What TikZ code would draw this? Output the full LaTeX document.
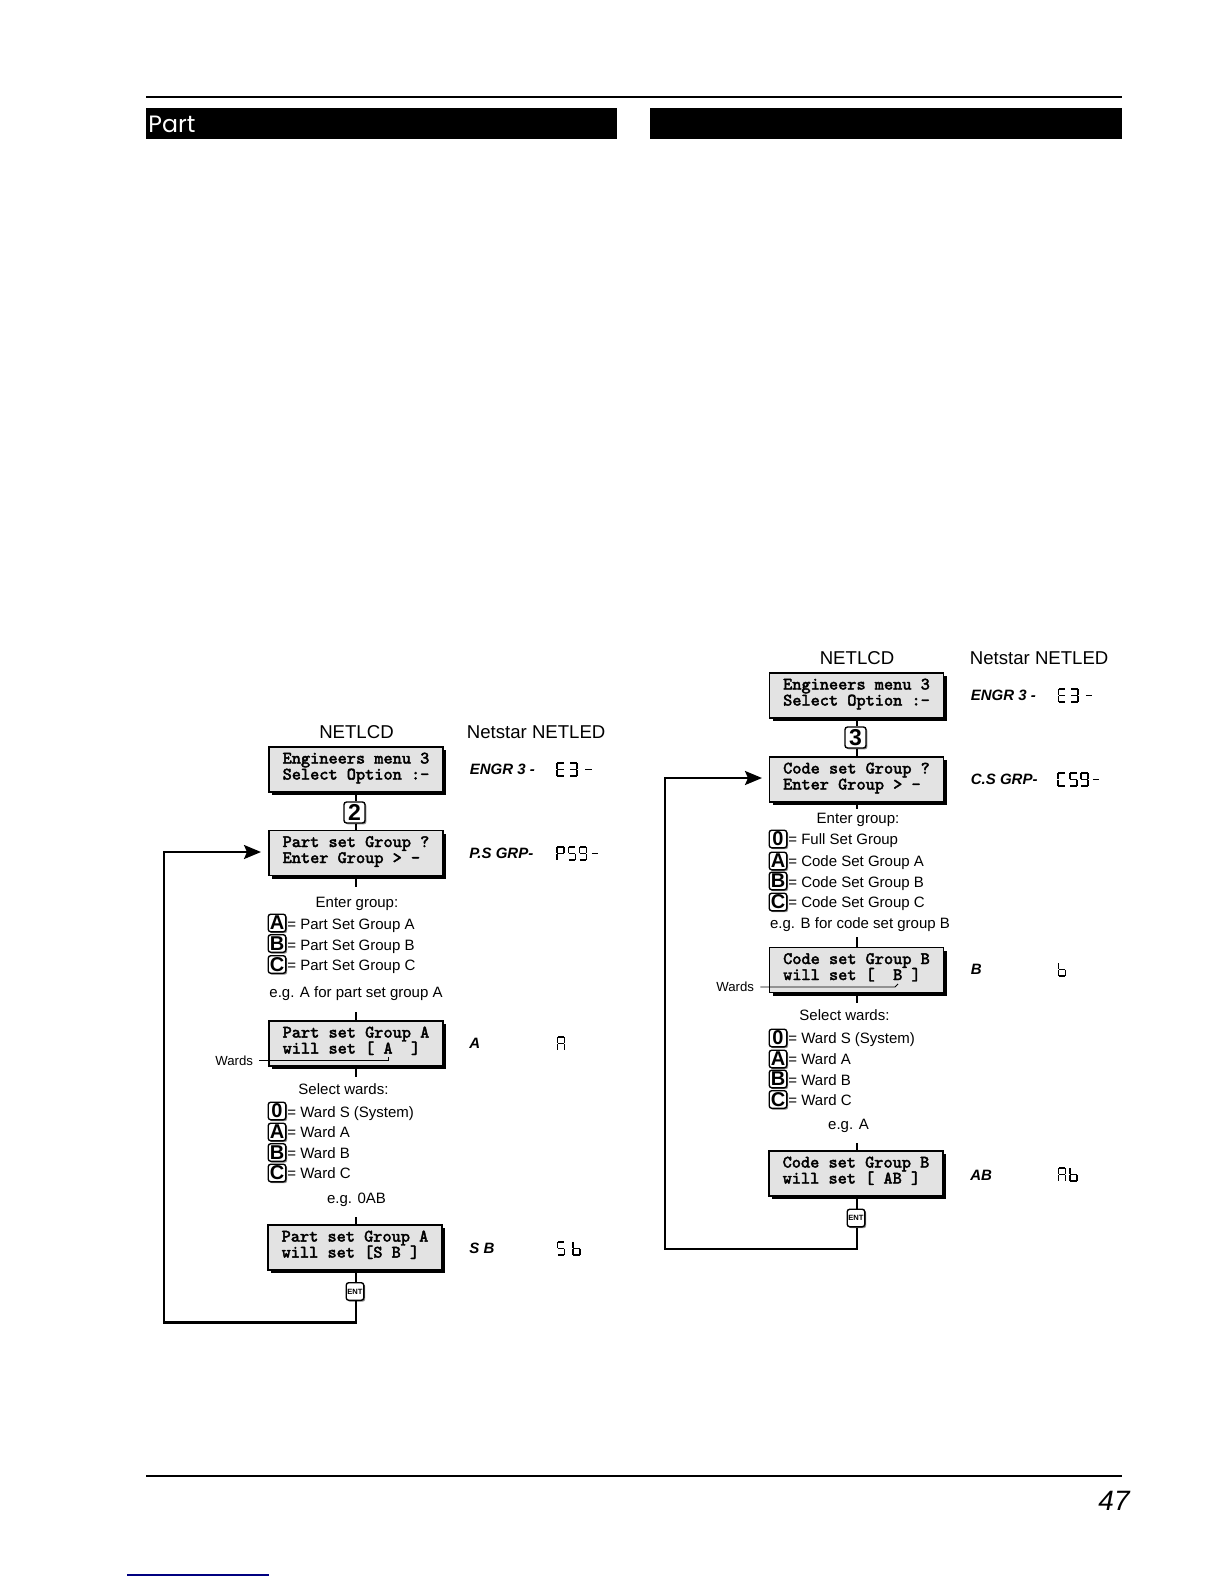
\documentclass[tikz,border=0pt]{standalone}
\usepackage{fontspec}
\setmainfont{Liberation Sans}
\newfontfamily\hdfont{Poppins}
\newfontfamily\lcdfont[FakeBold=2.2]{Latin Modern Mono}
\usetikzlibrary{shadows,arrows.meta}
\newcommand\lo{\rule[-3.4pt]{0pt}{0pt}}
\tikzset{
  x=0.5pt,y=-0.5pt,
  lcd/.style={rectangle,draw=black,line width=0.7pt,fill=black!11,minimum width=87pt,minimum height=22.5pt,inner sep=0pt,align=left,
    font=\lcdfont\fontsize{8.73pt}{8pt}\selectfont,
    general shadow={fill=black,shadow xshift=1.6pt,shadow yshift=-1.6pt}},
  keycap/.style={rectangle,rounded corners=1.3pt,draw=black,line width=0.7pt,fill=white,minimum size=8.8pt,inner sep=0pt,
    font=\bfseries\fontsize{10pt}{10pt}\selectfont,
    general shadow={fill=black!45,shadow xshift=0.7pt,shadow yshift=-0.7pt}},
  bigkey/.style={keycap,minimum size=10.5pt,font=\bfseries\fontsize{11.5pt}{11.5pt}\selectfont},
  entkey/.style={keycap,minimum size=8.8pt,font=\bfseries\fontsize{3.8pt}{3.8pt}\selectfont},
  head/.style={anchor=base west,inner sep=0pt,font=\fontsize{9.3pt}{9.3pt}\selectfont},
  headc/.style={head,anchor=base},
  item/.style={anchor=base west,inner sep=0pt,font=\fontsize{7.5pt}{7.5pt}\selectfont},
  itemc/.style={item,anchor=base},
  ledlabel/.style={anchor=base west,inner sep=0pt,font=\bfseries\itshape\fontsize{7.5pt}{7.5pt}\selectfont},
  wardtag/.style={anchor=base west,inner sep=0pt,font=\fontsize{6.6pt}{6.6pt}\selectfont},
  flow/.style={line width=1pt,black},
  loopline/.style={line width=1.15pt,black},
  leader/.style={line width=0.45pt,black},
  ledline/.style={line width=0.8pt,black,line cap=butt},
  bar/.style={fill=black,draw=none}
}
\def\sa{(0.4,0)--(6.6,0) }
\def\sb{(7,0.4)--(7,6.1) }
\def\sc{(7,6.9)--(7,12.6) }
\def\sd{(0.4,13)--(6.6,13) }
\def\se{(0,6.9)--(0,12.6) }
\def\sf{(0,0.4)--(0,6.1) }
\def\sg{(0.4,6.5)--(6.6,6.5) }
\newcommand\ledglyph[3]{\draw[ledline,shift={(#1,#2)}] #3;}
\newcommand\ledE[2]{\ledglyph{#1}{#2}{\sa\sd\se\sf\sg}}
\newcommand\ledThree[2]{\ledglyph{#1}{#2}{\sa\sb\sc\sd\sg}}
\newcommand\ledP[2]{\ledglyph{#1}{#2}{\sa\sb\se\sf\sg}}
\newcommand\ledFive[2]{\ledglyph{#1}{#2}{\sa\sc\sd\sf\sg}}
\newcommand\ledNine[2]{\ledglyph{#1}{#2}{\sa\sb\sc\sd\sf\sg}}
\newcommand\ledDash[2]{\ledglyph{#1}{#2}{\sg}}
\newcommand\ledA[2]{\ledglyph{#1}{#2}{\sa\sb\sc\se\sf\sg}}
\newcommand\ledB[2]{\ledglyph{#1}{#2}{\sc\sd\se\sf\sg}}
\newcommand\ledC[2]{\ledglyph{#1}{#2}{\sa\sd\se\sf}}
\begin{document}
\begin{tikzpicture}
\useasboundingbox (0,0) rectangle (1224,1584);
% page furniture
\draw[line width=0.85pt] (146,97) -- (1122,97);
\fill[bar] (146,108) rectangle (617,139);
\fill[bar] (650,108) rectangle (1122,139);
\node[anchor=base west,inner sep=0pt,text=white,font=\hdfont\fontsize{11.8pt}{12pt}\selectfont] (parttitle) at (148,133) {Part};
\draw[line width=0.6pt] (146,1476) -- (1122,1476);
\node[anchor=base east,inner sep=0pt,font=\itshape\fontsize{14pt}{14pt}\selectfont] (pagenum) at (1130,1510) {47};
\draw[line width=0.6pt,color={rgb,255:red,0;green,0;blue,128}] (127,1575) -- (269,1575);

% ===== left column =====
\node[headc] (lh1) at (356.5,738.5) {NETLCD};
\node[head] (lh2) at (466.5,738.5) {Netstar NETLED};
\node[lcd] (lb1) at (356,769.5) {Engineers menu 3\\Select Option :-\lo};
\node[lcd] (lb2) at (356,853) {Part set Group ?\\Enter Group > -\lo};
\node[lcd] (lb3) at (356,1043.5) {Part set Group A\\will set [ A~ ]\lo};
\node[lcd] (lb4) at (355,1247.5) {Part set Group A\\will set [S B ]\lo};
\node[bigkey] (lk2) at (354.5,812.5) {2};
\node[entkey] (lent) at (355,1291.5) {ENT};
\coordinate (lt1) at (356,887);
\coordinate (lt2) at (356,1012);
\coordinate (lt3) at (356,1077);
\coordinate (lt4) at (356,1217);
\coordinate (lc1) at (356,1322.5);
\coordinate (lc2) at (164,1322.5);
\coordinate (lc3) at (164,852);
\coordinate (lc4) at (261,852);
\draw[flow] (lb1.south) -- (lb1.south |- lk2.north);
\draw[flow] (lb1.south |- lk2.south) -- (lb2.north);
\draw[flow] (lb2.south) -- (lt1);
\draw[flow] (lt2) -- (lb3.north);
\draw[flow] (lb3.south) -- (lt3);
\draw[flow] (lt4) -- (lt4 |- lb4.north);
\draw[flow] (lt4 |- lb4.south) -- (lt4 |- lent.north);
\draw[loopline,-{Stealth[length=8.5pt,width=7pt,inset=1.5pt]}] (lt4 |- lent.south) -- (lc1) -- (lc2) -- (lc3) -- (lc4);

\node[itemc] (ltx1) at (357,907) {Enter group:};
\node[keycap] (lka) at (277,923) {A};
\node[keycap] (lkb) at (277,943.5) {B};
\node[keycap] (lkc) at (277,964.5) {C};
\node[item] (lg1) at (287,929) {= Part Set Group A};
\node[item] (lg2) at (287,950) {= Part Set Group B};
\node[item] (lg3) at (287,970) {= Part Set Group C};
\node[itemc] (ltx2) at (356,997) {e.g. A for part set group A};
\node[wardtag] (lw) at (215,1065) {Wards};
\coordinate (lw1) at (388,1060);
\coordinate (lw2) at (388,1057);
\draw[leader] ([xshift=3pt]lw.east |- lw1) -- (lw1) -- (lw2);
\node[itemc] (ltx3) at (343.5,1094) {Select wards:};
\node[keycap] (lk0b) at (277,1111) {0};
\node[keycap] (lkab) at (277,1132) {A};
\node[keycap] (lkbb) at (277,1152.5) {B};
\node[keycap] (lkcb) at (277,1173) {C};
\node[item] (lw0) at (287,1117) {= Ward S (System)};
\node[item] (lwa) at (287,1137.5) {= Ward A};
\node[item] (lwb) at (287,1158) {= Ward B};
\node[item] (lwc) at (287,1178) {= Ward C};
\node[itemc] (ltx4) at (356.5,1203) {e.g. 0AB};
\node[ledlabel] (ll1) at (469.5,774) {ENGR 3 -};
\node[ledlabel] (ll2) at (469,858) {P.S GRP-};
\node[ledlabel] (ll3) at (469,1048) {A};
\node[ledlabel] (ll4) at (469,1253) {S B};
\ledE{557}{763}\ledThree{570}{763}\ledDash{585}{763}
\ledP{557}{847}\ledFive{568.5}{847}\ledNine{579.5}{847}\ledDash{591.5}{847}
\ledA{557.5}{1037}
\ledFive{557.5}{1242}\ledB{573}{1242}

% ===== right column =====
\node[headc] (rh1) at (857,664.5) {NETLCD};
\node[head] (rh2) at (969.5,664.5) {Netstar NETLED};
\node[lcd] (rb1) at (856.5,695.5) {Engineers menu 3\\Select Option :-\lo};
\node[lcd] (rb2) at (856.5,779.5) {Code set Group ?\\Enter Group > -\lo};
\node[lcd] (rb3) at (856.5,970) {Code set Group B\\will set [~ B ]\lo};
\node[lcd] (rb4) at (856,1173.5) {Code set Group B\\will set [ AB ]\lo};
\node[bigkey] (rk3) at (855.5,737.5) {3};
\node[entkey] (rent) at (856,1218) {ENT};
\coordinate (rt1) at (857,809);
\coordinate (rt2) at (857,937);
\coordinate (rt3) at (857,1003);
\coordinate (rt4) at (857,1143);
\coordinate (rc1) at (857,1249);
\coordinate (rc2) at (665,1249);
\coordinate (rc3) at (665,778);
\coordinate (rc4) at (762,778);
\draw[flow] (rt1 |- rb1.south) -- (rt1 |- rk3.north);
\draw[flow] (rt1 |- rk3.south) -- (rt1 |- rb2.north);
\draw[flow] (rt1 |- rb2.south) -- (rt1);
\draw[flow] (rt2) -- (rt2 |- rb3.north);
\draw[flow] (rt3 |- rb3.south) -- (rt3);
\draw[flow] (rt4) -- (rt4 |- rb4.north);
\draw[flow] (rt4 |- rb4.south) -- (rt4 |- rent.north);
\draw[loopline,-{Stealth[length=8.5pt,width=7pt,inset=1.5pt]}] (rt4 |- rent.south) -- (rc1) -- (rc2) -- (rc3) -- (rc4);

\node[itemc] (rtx1) at (858,823) {Enter group:};
\node[keycap] (rk0) at (778,839) {0};
\node[keycap] (rka) at (778,861) {A};
\node[keycap] (rkb) at (778,881) {B};
\node[keycap] (rkc) at (778,902) {C};
\node[item] (rg0) at (788,844.5) {= Full Set Group};
\node[item] (rg1) at (788,866) {= Code Set Group A};
\node[item] (rg2) at (788,887) {= Code Set Group B};
\node[item] (rg3) at (788,907) {= Code Set Group C};
\node[itemc] (rtx2) at (860,928) {e.g. B for code set group B};
\node[wardtag] (rw) at (716,991) {Wards};
\coordinate (rw1) at (895,987);
\coordinate (rw2) at (898,984);
\draw[leader] ([xshift=3pt]rw.east |- rw1) -- (rw1) -- (rw2);
\node[itemc] (rtx3) at (844.5,1020) {Select wards:};
\node[keycap] (rk0b) at (778,1038) {0};
\node[keycap] (rkab) at (778,1059) {A};
\node[keycap] (rkbb) at (778,1079) {B};
\node[keycap] (rkcb) at (778,1099.5) {C};
\node[item] (rw0) at (788,1043.5) {= Ward S (System)};
\node[item] (rwa) at (788,1064) {= Ward A};
\node[item] (rwb) at (788,1085) {= Ward B};
\node[item] (rwc) at (788,1105) {= Ward C};
\node[itemc] (rtx4) at (848.5,1129) {e.g. A};
\node[ledlabel] (rl1) at (970.5,700) {ENGR 3 -};
\node[ledlabel] (rl2) at (970.5,784) {C.S GRP-};
\node[ledlabel] (rl3) at (970.5,974) {B};
\node[ledlabel] (rl4) at (970,1180) {AB};
\ledE{1058.5}{689}\ledThree{1071}{689}\ledDash{1085.5}{689}
\ledC{1058}{773}\ledFive{1070}{773}\ledNine{1081}{773}\ledDash{1092.5}{773}
\ledB{1058.5}{963}
\ledA{1058.5}{1168}\ledB{1070}{1168}
\end{tikzpicture}
\end{document}
